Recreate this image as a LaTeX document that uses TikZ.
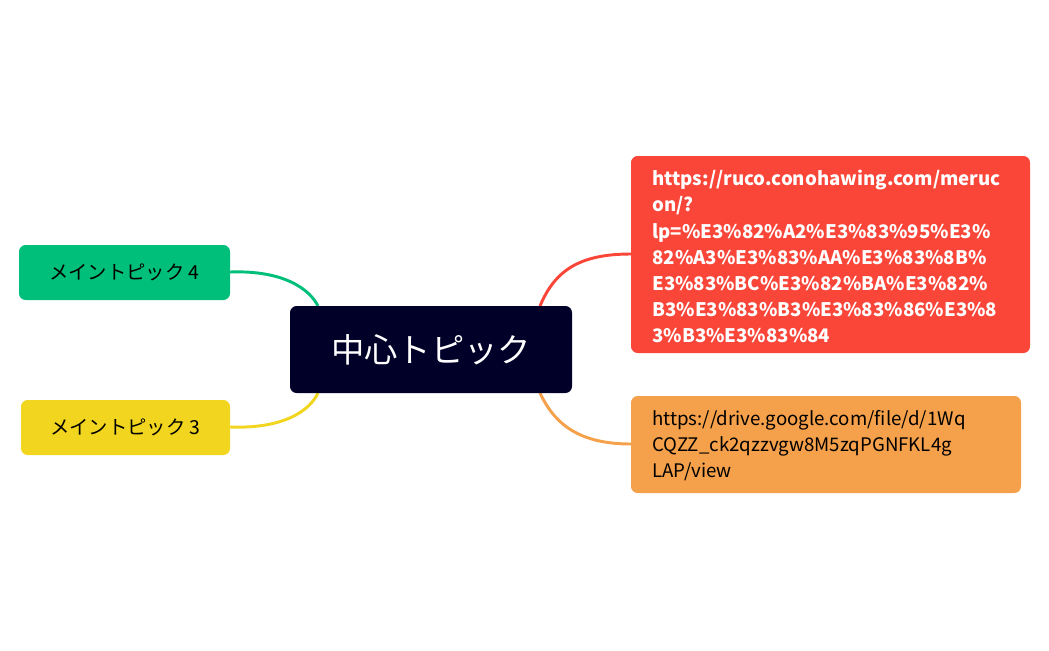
\documentclass[tikz,border=0pt]{standalone}
\usepackage{fontspec}
\setmainfont{Noto Sans CJK JP}
\begin{document}
\begin{tikzpicture}[x=0.75pt,y=-0.75pt,
  box/.style={rounded corners=5pt,inner sep=0pt},
  lnk/.style={line width=2.2pt}]
\useasboundingbox (0,0) rectangle (1049,650);
\definecolor{cnavy}{HTML}{000028}
\definecolor{cgreen}{HTML}{00BF7A}
\definecolor{cyellow}{HTML}{F2D51F}
\definecolor{cred}{HTML}{FA4539}
\definecolor{corange}{HTML}{F5A04A}
% connectors
\coordinate (gE) at (230,272); \coordinate (yE) at (230,427);
\coordinate (rE) at (631,254); \coordinate (oE) at (631,444);
\coordinate (cNW) at (318,306); \coordinate (cSW) at (318,393);
\coordinate (cNE) at (540,306); \coordinate (cSE) at (540,393);
\draw[lnk,cgreen] (gE) .. controls (285,270) and (310,290) .. (cNW);
\draw[lnk,cyellow] (yE) .. controls (285,429) and (310,410) .. (cSW);
\draw[lnk,cred] (rE) .. controls (580,254) and (555,270) .. (cNE);
\draw[lnk,corange] (oE) .. controls (580,444) and (555,425) .. (cSE);
% boxes
\fill[cnavy,rounded corners=5pt] (290,306) rectangle (572,393);
\node (c) at (431,349.5) [text=white,font=\fontsize{25}{30}\selectfont] {中心トピック};
\fill[cgreen,rounded corners=5pt] (19,245) rectangle (230,300);
\node (g) at (124.5,272) [font=\fontsize{14.5}{18}\selectfont] {メイントピック 4};
\fill[cyellow,rounded corners=5pt] (21,400) rectangle (230,455);
\node (y) at (125.5,427) [font=\fontsize{14.5}{18}\selectfont] {メイントピック 3};
\fill[cred,rounded corners=5pt] (631,156) rectangle (1030,353);
\node (r) at (652,170) [anchor=north west,align=left,text=white,inner sep=0pt,
  font=\fontsize{14}{19.6}\selectfont\bfseries] {https://ruco.conohawing.com/meruc\\on/?\\lp=\%E3\%82\%A2\%E3\%83\%95\%E3\%\\82\%A3\%E3\%83\%AA\%E3\%83\%8B\%\\E3\%83\%BC\%E3\%82\%BA\%E3\%82\%\\B3\%E3\%83\%B3\%E3\%83\%86\%E3\%8\\3\%B3\%E3\%83\%84};
\fill[corange,rounded corners=5pt] (631,396) rectangle (1021,493);
\node (o) at (652,410) [anchor=north west,align=left,inner sep=0pt,
  font=\fontsize{14}{19.6}\selectfont] {https://drive.google.com/file/d/1Wq\\CQZZ\_ck2qzzvgw8M5zqPGNFKL4g\\LAP/view};
\end{tikzpicture}
\end{document}
